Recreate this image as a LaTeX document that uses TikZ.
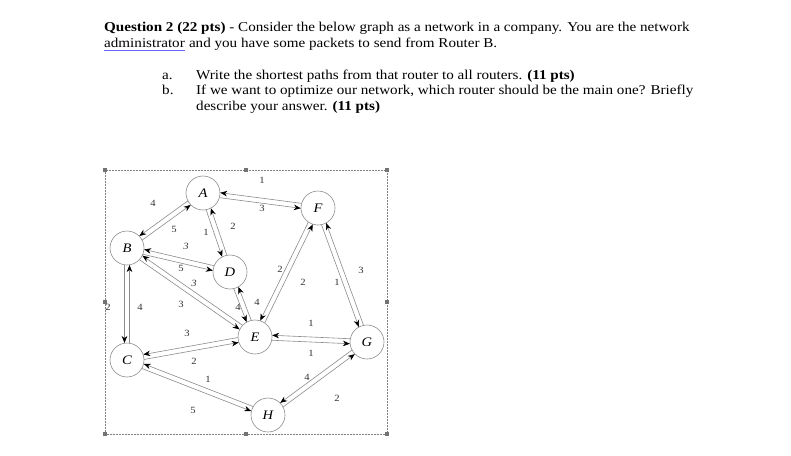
\documentclass[tikz,border=0pt]{standalone}
\usepackage{fontspec}
\setmainfont[FakeStretch=1.12]{Liberation Serif}
\usetikzlibrary{calc,arrows.meta}
\tikzset{
 rtr/.style={circle,draw=black!45,line width=0.6pt,minimum size=34pt,inner sep=0pt,font=\fontsize{13}{13}\selectfont\itshape},
 edg/.style={draw=black!45,line width=0.6pt,shorten >=17pt,shorten <=17pt,-{Stealth[black,length=7pt,width=5.5pt]}},
 wt/.style={font=\fontsize{9.5}{9.5}\selectfont,text=black!80,inner sep=0pt},
 hdl/.style={fill=black!55,minimum size=3.5pt,inner sep=0pt},
 txt/.style={anchor=base west,inner sep=0pt,font=\fontsize{13.5}{15}\selectfont}
}
\newcommand\dedge[2]{\draw[edg] ($(#1)!2.5pt!-90:(#2)$) -- ($(#2)!2.5pt!90:(#1)$);}
\begin{document}
\begin{tikzpicture}[x=1pt,y=-1pt]
\useasboundingbox[fill=white] (0,0) rectangle (791,455);
\node[txt] (q1) at (104,31) {\textbf{Question 2 (22 pts)} - Consider the below graph as a network in a company. You are the network};
\node[txt] (q2w) at (104,47) {administrator};
\node[txt,anchor=base west] (q2) at (q2w.base east) {\ and you have some packets to send from Router B.};
\draw[blue!60,line width=0.6pt] ([yshift=-3pt]q2w.base west) -- ([yshift=-3pt]q2w.base east);
\node[txt] (ia) at (162,79) {a.};
\node[txt] (ta) at (196,79) {Write the shortest paths from that router to all routers. \textbf{(11 pts)}};
\node[txt] (ib) at (162,94) {b.};
\node[txt] (tb) at (196,94) {If we want to optimize our network, which router should be the main one? Briefly};
\node[txt] (tc) at (196,110) {describe your answer. \textbf{(11 pts)}};
% frame
\draw[black!50,densely dotted,line width=0.5pt] (105,170) rectangle (387,434);
\foreach \x/\y in {105/170,246/170,387/170,105/302,387/302,105/434,246/434,387/434}
  \node[hdl] at (\x,\y) {};
% routers
\node[rtr] (A) at (203,193) {A};
\node[rtr] (F) at (318,208) {F};
\node[rtr] (B) at (127,248) {B};
\node[rtr] (D) at (230,272) {D};
\node[rtr] (E) at (255,337) {E};
\node[rtr] (G) at (367,342) {G};
\node[rtr] (C) at (127,360) {C};
\node[rtr] (H) at (268,415) {H};
% edges
\dedge{A}{F}\dedge{F}{A}
\dedge{B}{A}\dedge{A}{B}
\dedge{A}{D}\dedge{D}{A}
\dedge{B}{D}\dedge{D}{B}
\dedge{B}{E}\dedge{E}{B}
\dedge{B}{C}\dedge{C}{B}
\dedge{D}{E}\dedge{E}{D}
\dedge{E}{F}\dedge{F}{E}
\dedge{F}{G}\dedge{G}{F}
\dedge{E}{G}\dedge{G}{E}
\dedge{C}{E}\dedge{E}{C}
\dedge{C}{H}\dedge{H}{C}
\dedge{H}{G}\dedge{G}{H}
% weights
\foreach \x/\y/\t in {262/180/1,262/208/3,153/203/4,174/229/5,206/232/1,233/226/2,186/246/\textit{3},181/268/5,194/283/\textit{3},181/304/3,108/307/2,140/307/4,238/307/4,257/302/4,280/269/2,303/282/2,337/282/1,361/270/3,311/323/1,311/353/1,187/333/3,194/361/2,208/379/1,193/410/5,307/377/4,337/398/2}
  \node[wt] at (\x,\y) {\t};
\end{tikzpicture}
\end{document}
